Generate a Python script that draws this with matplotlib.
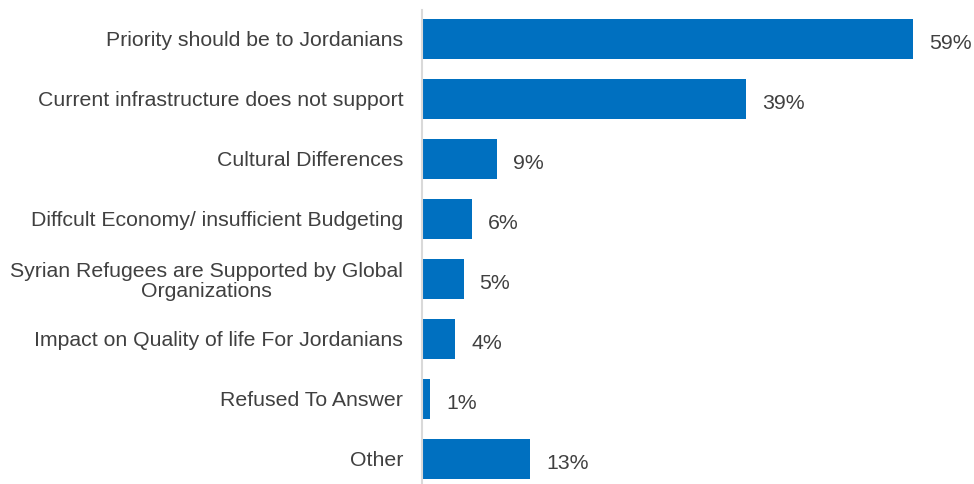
import matplotlib

matplotlib.use("Agg")
import matplotlib.pyplot as plt
import numpy as np

CATEGORIES = [
    "Priority should be to Jordanians",
    "Current infrastructure does not support",
    "Cultural Differences",
    "Diffcult Economy/ insufficient Budgeting",
    "Syrian Refugees are Supported by Global\nOrganizations",
    "Impact on Quality of life For Jordanians",
    "Refused To Answer",
    "Other",
]
VALUES = [59, 39, 9, 6, 5, 4, 1, 13]

BAR_COLOR = "#0070C0"
TEXT_COLOR = "#404040"


def main() -> None:
    plt.rcParams.update({"font.family": ["Liberation Sans", "DejaVu Sans"]})
    fig = plt.figure(figsize=(9.74, 4.84), dpi=100)
    ax = fig.add_axes([422 / 974, 0, 552 / 974, 474 / 484])

    y = np.arange(len(CATEGORIES))
    ax.barh(y, VALUES, height=0.667, color=BAR_COLOR)
    for yi, v in zip(y, VALUES):
        ax.text(v + 1.9, yi + 0.07, f"{v}%", ha="left", va="center",
                fontsize=15.3, color=TEXT_COLOR)

    ax.set_xlim(0, 552 / 8.32)
    ax.set_ylim(7.417, -0.483)
    ax.set_yticks(y)
    ax.set_yticklabels(CATEGORIES, fontsize=15.3, color=TEXT_COLOR,
                       multialignment="center", linespacing=1.05)
    ax.tick_params(axis="y", length=0, pad=13.5)
    ax.set_xticks([])
    for spine in ("top", "right", "bottom"):
        ax.spines[spine].set_visible(False)
    ax.spines["left"].set_color("#d9d9d9")
    ax.spines["left"].set_linewidth(1.5)

    fig.savefig("out.png", dpi=100)


if __name__ == "__main__":
    main()
